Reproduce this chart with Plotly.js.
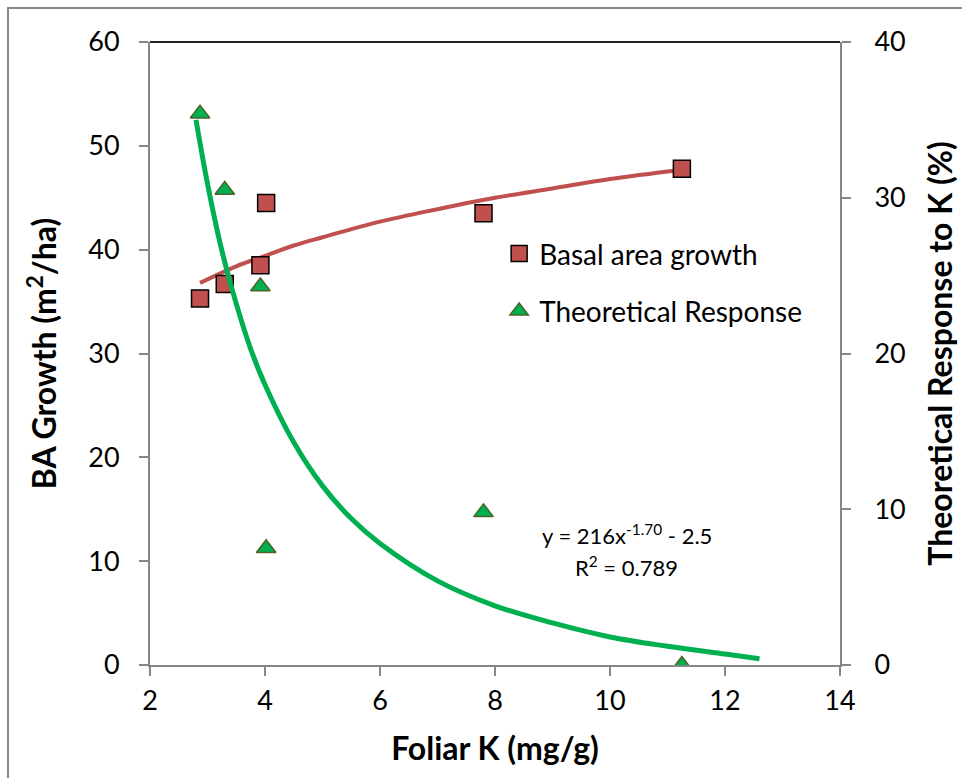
<!DOCTYPE html>
<html>
<head>
<meta charset="utf-8">
<script src="https://cdn.plot.ly/plotly-3.0.1.min.js"></script>
<style>
  body { margin: 0; background: #fff; }
  #wrap { position: relative; width: 962px; height: 778px; }
  #chart { width: 962px; height: 778px; }
  #bTop { position: absolute; left: 7px; top: 7px; width: 955px; height: 2px; background: #898989; }
  #bLeft { position: absolute; left: 7px; top: 7px; width: 2px; height: 771px; background: #898989; }
</style>
</head>
<body>
<div id="wrap">
  <div id="chart"></div>
  <div id="bTop"></div>
  <div id="bLeft"></div>
</div>
<script>
// Observed data
const foliarK = [2.87, 3.30, 3.92, 4.02, 7.80, 11.25];
const baGrowth = [35.3, 36.7, 38.5, 44.5, 43.5, 47.8];
const theoreticalResponse = [35.4, 30.5, 24.3, 7.5, 9.8, 0.0];

// Trend line for basal area growth
const baTrendX = [2.87, 3.5, 4.0, 4.5, 5.0, 6.0, 7.0, 8.0, 9.0, 10.0, 11.25];
const baTrendY = [36.8, 38.4, 39.4, 40.4, 41.2, 42.7, 43.9, 45.0, 45.9, 46.8, 47.7];

// Theoretical response curve
const respCurveX = [2.80, 3.00, 3.25, 3.50, 3.75, 4.00, 4.50, 5.00, 5.50, 6.00, 7.00, 8.00, 9.00, 10.00, 11.00, 12.00, 12.60];
const respCurveY = [35.0, 30.9, 26.6, 23.2, 20.3, 18.0, 14.3, 11.5, 9.4, 7.8, 5.4, 3.8, 2.7, 1.8, 1.2, 0.7, 0.4];

const xTicks = [2, 4, 6, 8, 10, 12, 14];
const yLeftTicks = [0, 10, 20, 30, 40, 50, 60];
const yRightTicks = [0, 10, 20, 30, 40];

const FONT = 'Lato, "Open Sans", "DejaVu Sans", sans-serif';
const red = '#C0504D';
const green = '#00B050';

const traces = [
  {
    x: baTrendX, y: baTrendY, type: 'scatter', mode: 'lines',
    line: { color: red, width: 4, shape: 'spline' },
    showlegend: false, hoverinfo: 'skip', yaxis: 'y'
  },
  {
    x: respCurveX, y: respCurveY, type: 'scatter', mode: 'lines',
    line: { color: green, width: 5, shape: 'spline' },
    showlegend: false, hoverinfo: 'skip', yaxis: 'y2'
  },
  {
    x: foliarK, y: baGrowth, type: 'scatter', mode: 'markers',
    name: 'Basal area growth', legendgroup: 'a',
    marker: { symbol: 'square', size: 17, color: red, line: { color: '#000', width: 1.5 } },
    yaxis: 'y'
  },
  {
    x: foliarK, y: theoreticalResponse, type: 'scatter', mode: 'markers',
    name: 'Theoretical Response', legendgroup: 'b',
    marker: { symbol: 'triangle-up', size: 17, color: green, line: { color: '#4F6228', width: 1.5 } },
    yaxis: 'y2'
  }
];

const axisCommon = {
  showgrid: false, zeroline: false, showline: true,
  linecolor: '#868686', linewidth: 2,
  ticks: 'outside', ticklen: 9, tickwidth: 2, tickcolor: '#868686',
  tickfont: { family: FONT, size: 27, color: '#000' }
};
const titleFont = { family: FONT, size: 32, weight: 700, color: '#000' };

const layout = {
  width: 962, height: 778,
  margin: { l: 150, r: 122, t: 42, b: 113 },
  paper_bgcolor: '#fff', plot_bgcolor: '#fff',
  font: { family: FONT, color: '#000' },
  xaxis: Object.assign({}, axisCommon, {
    range: [2, 14], tickvals: xTicks, ticktext: xTicks.map(String),
    ticklabelstandoff: 2,
    title: { text: 'Foliar K (mg/g)', font: titleFont, standoff: 22 },
    automargin: false
  }),
  yaxis: Object.assign({}, axisCommon, {
    range: [0, 60], tickvals: yLeftTicks, ticktext: yLeftTicks.map(String),
    ticklabelstandoff: 14,
    title: { text: 'BA Growth (m<sup>2</sup>/ha)', font: titleFont, standoff: 22 },
    automargin: false
  }),
  yaxis2: Object.assign({}, axisCommon, {
    range: [0, 40], tickvals: yRightTicks, ticktext: yRightTicks.map(String),
    overlaying: 'y', side: 'right',
    ticklabelstandoff: 18,
    title: { text: 'Theoretical Response to K (%)', font: titleFont, standoff: 25 },
    automargin: false
  }),
  legend: {
    x: 0.506, y: 0.70, xanchor: 'left', yanchor: 'top',
    bgcolor: 'rgba(0,0,0,0)',
    font: { family: FONT, size: 28, color: '#000' },
    tracegroupgap: 18, itemwidth: 30
  },
  shapes: [
    { type: 'line', xref: 'paper', yref: 'paper', x0: 0, x1: 1, y0: 1, y1: 1,
      line: { color: '#222', width: 2 } }
  ],
  annotations: [
    { xref: 'paper', yref: 'paper', x: 0.691, y: 0.21, xanchor: 'center', yanchor: 'middle',
      text: 'y = 216x<sup>-1.70</sup> - 2.5', showarrow: false,
      font: { family: FONT, size: 22, color: '#000' } },
    { xref: 'paper', yref: 'paper', x: 0.691, y: 0.158, xanchor: 'center', yanchor: 'middle',
      text: 'R<sup>2</sup> = 0.789', showarrow: false,
      font: { family: FONT, size: 22, color: '#000' } }
  ]
};

Plotly.newPlot('chart', traces, layout, { displayModeBar: false, staticPlot: true });
</script>
</body>
</html>
